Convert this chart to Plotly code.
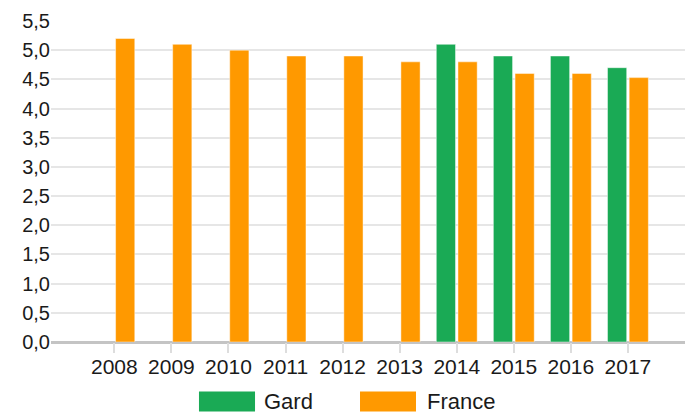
import plotly.graph_objects as go

# data
years = ['2008', '2009', '2010', '2011', '2012', '2013', '2014', '2015', '2016', '2017']
gard = [None, None, None, None, None, None, 5.1, 4.9, 4.9, 4.7]
france = [5.2, 5.1, 5.0, 4.9, 4.9, 4.8, 4.8, 4.6, 4.6, 4.53]

GREEN = '#1aaa55'
ORANGE = '#ff9900'
FONT = 'Liberation Sans, Arial, sans-serif'

fig = go.Figure()
fig.add_trace(go.Bar(
    x=years, y=gard, name='Gard',
    marker=dict(color=GREEN, line=dict(color='rgba(255,255,255,0.45)', width=1))
))
fig.add_trace(go.Bar(
    x=years, y=france, name='France',
    marker=dict(color=ORANGE, line=dict(color='rgba(255,255,255,0.45)', width=1))
))

# legend drawn by hand, the plotly swatches are too small
legend_items = [('Gard', GREEN, 0.2334, 0.3218, 0.3328),
                ('France', ORANGE, 0.4874, 0.5757, 0.5899)]
for label, color, x0, x1, xt in legend_items:
    fig.add_shape(type='rect', xref='paper', yref='paper',
                  x0=x0, x1=x1, y0=-0.2165, y1=-0.1542,
                  fillcolor=color, line=dict(width=0))
    fig.add_annotation(text=label, xref='paper', yref='paper',
                       x=xt, y=-0.1854, xanchor='left', yanchor='middle',
                       showarrow=False, font=dict(size=22, color='#1a1a1a', family=FONT))

fig.update_layout(
    width=685, height=418,
    margin=dict(l=51, r=0, t=21, b=76),
    plot_bgcolor='white', paper_bgcolor='white',
    barmode='group', bargap=0.24, bargroupgap=0.115,
    separators=', ',
    showlegend=False,
    font=dict(family=FONT, size=20, color='#1a1a1a'),
    xaxis=dict(
        type='category', range=[-1.11, 10.0],
        showgrid=False, showline=False,
        ticks='outside', ticklen=10, tickwidth=2, tickcolor='#dddddd',
        ticklabelstandoff=-4,
        tickfont=dict(size=21)
    ),
    yaxis=dict(
        range=[0, 5.5], dtick=0.5, tickformat='.1f',
        showgrid=True, gridcolor='#e6e6e6', gridwidth=2,
        zeroline=True, zerolinecolor='#c4c4c4', zerolinewidth=3,
        showline=False, ticks='', tickfont=dict(size=20)
    )
)

# drop the default 8px body margin so the chart sits at the page corner
fig.write_html("out.html", config={'displayModeBar': False},
               post_script="document.body.style.margin='0';")
